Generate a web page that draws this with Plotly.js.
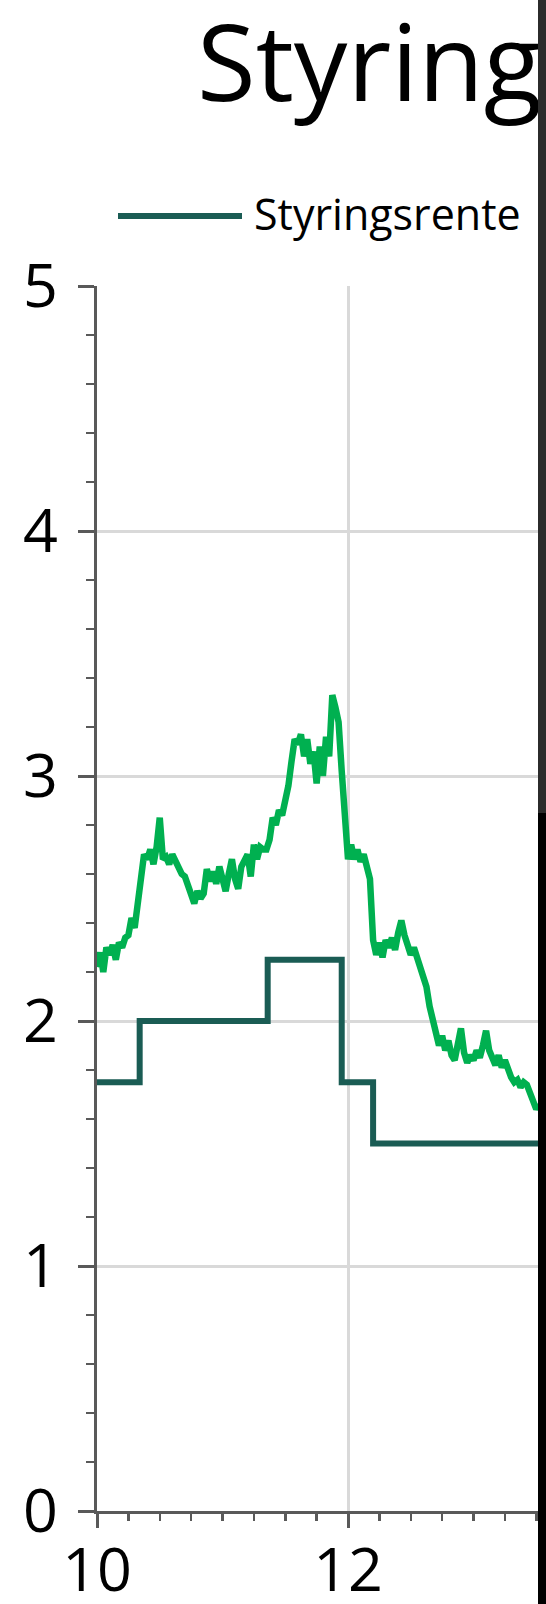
<!DOCTYPE html>
<html>
<head>
<meta charset="utf-8">
<script src="https://cdn.plot.ly/plotly-3.0.1.min.js"></script>
<style>
  html, body { margin: 0; padding: 0; background: #fff; overflow: hidden; }
  #wrap { position: relative; width: 538px; height: 1604px; overflow: hidden; }
  #chart { position: absolute; left: 0; top: 0; width: 900px; height: 1604px; }
  #bandTop { position: absolute; left: 538px; top: 0; width: 8px; height: 813px; background: #2b2b2b; }
  #bandBot { position: absolute; left: 538px; top: 813px; width: 8px; height: 791px; background: #000; }
</style>
</head>
<body>
<div id="wrap"><div id="chart"></div></div>
<div id="bandTop"></div>
<div id="bandBot"></div>
<script>
// ---- Data ----
const titleText = 'Styringsrente';
const policyName = 'Styringsrente';
const marketName = 'Markedsrente';

// Policy rate (step line): change dates (decimal year, '10 = 2010) and levels
const policyX = [10.0, 10.34, 11.36, 11.95, 12.20, 13.52];
const policyY = [1.75, 2.00, 2.25, 1.75, 1.50, 1.50];

// Market rate (green line)
const marketX = [
  10.000,10.025,10.050,10.075,10.100,10.125,10.150,10.175,10.200,10.225,
  10.250,10.275,10.300,10.325,10.350,10.375,10.400,10.425,10.450,10.475,
  10.500,10.525,10.550,10.575,10.600,10.625,10.650,10.675,10.700,10.725,
  10.750,10.775,10.800,10.825,10.850,10.875,10.900,10.925,10.950,10.975,
  11.000,11.025,11.050,11.075,11.100,11.125,11.150,11.175,11.200,11.225,
  11.250,11.275,11.300,11.325,11.350,11.375,11.400,11.425,11.450,11.475,
  11.500,11.525,11.550,11.575,11.600,11.625,11.650,11.675,11.700,11.725,
  11.750,11.775,11.800,11.825,11.850,11.875,11.900,11.925,11.950,11.975,
  12.000,12.025,12.050,12.075,12.100,12.125,12.150,12.175,12.200,12.225,
  12.250,12.275,12.300,12.325,12.350,12.375,12.400,12.425,12.450,12.475,
  12.500,12.525,12.550,12.575,12.600,12.625,12.650,12.675,12.700,12.725,
  12.750,12.775,12.800,12.825,12.850,12.875,12.900,12.925,12.950,12.975,
  13.000,13.025,13.050,13.075,13.100,13.125,13.150,13.175,13.200,13.225,
  13.250,13.275,13.300,13.325,13.350,13.375,13.400,13.425,13.450,13.475,
  13.500,13.525
];
const marketY = [
  2.22,2.28,2.20,2.30,2.27,2.31,2.25,2.32,2.30,2.34,
  2.35,2.42,2.38,2.47,2.60,2.68,2.66,2.70,2.64,2.71,
  2.83,2.66,2.67,2.64,2.68,2.65,2.63,2.60,2.59,2.55,
  2.51,2.48,2.53,2.50,2.52,2.62,2.57,2.61,2.56,2.63,
  2.58,2.53,2.60,2.66,2.58,2.54,2.63,2.65,2.68,2.59,
  2.72,2.66,2.71,2.70,2.70,2.74,2.83,2.80,2.86,2.84,
  2.90,2.96,3.06,3.15,3.13,3.17,3.08,3.15,3.05,3.10,
  2.97,3.12,3.00,3.16,3.08,3.33,3.28,3.22,3.02,2.80,
  2.66,2.72,2.66,2.70,2.65,2.68,2.63,2.58,2.33,2.27,
  2.32,2.26,2.33,2.30,2.34,2.29,2.36,2.41,2.35,2.31,
  2.27,2.30,2.26,2.24,2.20,2.14,2.06,2.00,1.93,1.90,
  1.94,1.88,1.92,1.86,1.84,1.92,1.97,1.87,1.83,1.86,
  1.84,1.88,1.85,1.90,1.96,1.88,1.85,1.82,1.86,1.81,
  1.84,1.80,1.77,1.75,1.76,1.73,1.75,1.74,1.70,1.66,
  1.64,1.66
];

const xTickVals = [10, 12];
const xTickText = ['10', '12'];
const yTickVals = [0, 1, 2, 3, 4, 5];

// ---- Chart ----
const W = 900, H = 1604;
const mL = 97, mT = 286, mB = 93;
const plotW = 753; // 10..16
const mR = W - mL - plotW;
const px = v => (v - mL) / plotW;              // pixel x -> paper x
const py = v => (H - mB - v) / (H - mT - mB);  // pixel y -> paper y

const FONT = '"Open Sans", Lato, sans-serif';
const axisColor = '#595959';

const traces = [
  {
    x: marketX, y: marketY, type: 'scatter', mode: 'lines', name: marketName,
    line: { color: '#00b050', width: 6.5 }, showlegend: false
  },
  {
    x: policyX, y: policyY, type: 'scatter', mode: 'lines', name: policyName,
    line: { color: '#1a5c54', width: 6, shape: 'hv' }, showlegend: false
  }
];

const layout = {
  width: W, height: H,
  margin: { l: mL, r: mR, t: mT, b: mB, pad: 0 },
  paper_bgcolor: '#fff', plot_bgcolor: '#fff',
  font: { family: FONT, color: '#000' },
  showlegend: false,
  title: {
    text: titleText,
    font: { family: FONT, size: 107, color: '#000' },
    xref: 'container', x: 197 / W, xanchor: 'left',
    yref: 'container', y: 1 - 26 / H, yanchor: 'top',
    pad: { t: 0, b: 0, l: 0, r: 0 }
  },
  xaxis: {
    range: [10, 16], tickmode: 'array', tickvals: xTickVals, ticktext: xTickText,
    showgrid: true, gridcolor: '#d9d9d9', gridwidth: 3,
    showline: true, linecolor: axisColor, linewidth: 3,
    ticks: 'outside', ticklen: 14, tickwidth: 3, tickcolor: axisColor,
    tickfont: { family: FONT, size: 61, color: '#000' },
    ticklabelstandoff: -10,
    minor: { dtick: 0.25, ticks: 'outside', ticklen: 7, tickwidth: 2.5, tickcolor: axisColor, showgrid: false },
    zeroline: false, fixedrange: true
  },
  yaxis: {
    range: [0, 5], tickmode: 'array', tickvals: yTickVals,
    showgrid: true, gridcolor: '#d9d9d9', gridwidth: 3,
    showline: true, linecolor: axisColor, linewidth: 3,
    ticks: 'outside', ticklen: 16, tickwidth: 3, tickcolor: axisColor,
    tickfont: { family: FONT, size: 61, color: '#000' },
    ticklabelstandoff: 8,
    minor: { dtick: 0.2, ticks: 'outside', ticklen: 8, tickwidth: 2.5, tickcolor: axisColor, showgrid: false },
    zeroline: false, fixedrange: true
  },
  shapes: [
    { type: 'line', xref: 'paper', yref: 'paper',
      x0: px(118), x1: px(242), y0: py(216), y1: py(216),
      line: { color: '#1a5c54', width: 6 } }
  ],
  annotations: [
    { xref: 'paper', yref: 'paper', x: px(252), y: py(214),
      xanchor: 'left', yanchor: 'middle', showarrow: false,
      text: policyName, font: { family: FONT, size: 43, color: '#000' } }
  ]
};

Plotly.newPlot('chart', traces, layout, { displayModeBar: false, staticPlot: true });
</script>
</body>
</html>
